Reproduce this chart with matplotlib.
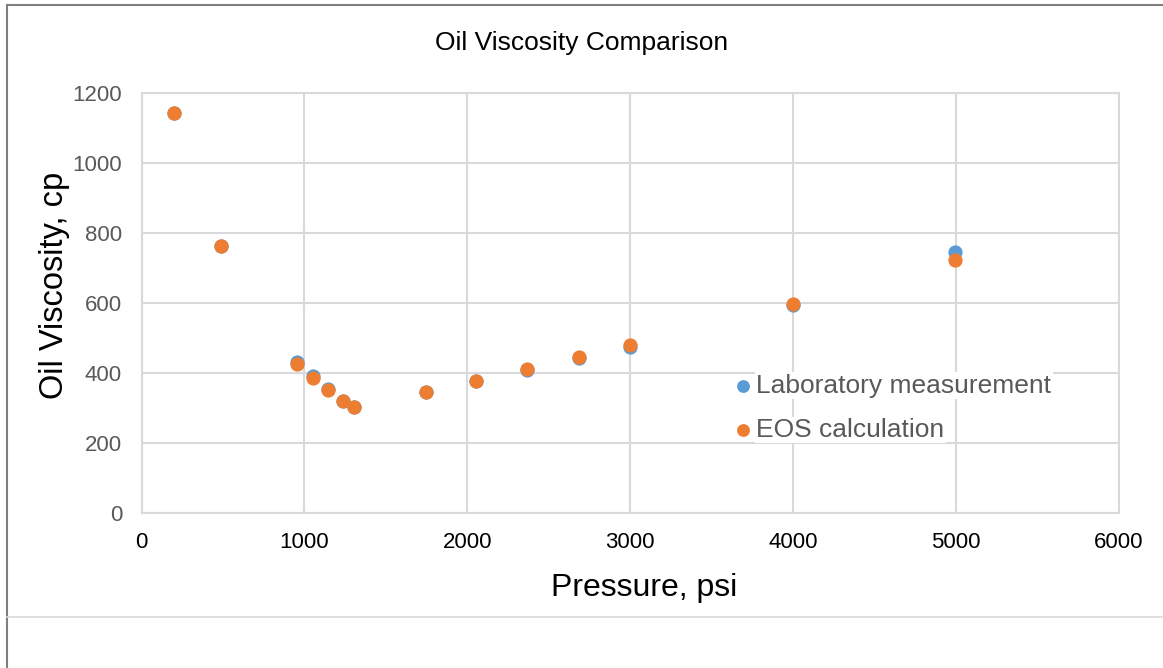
import matplotlib
matplotlib.use("Agg")
import matplotlib.pyplot as plt
from matplotlib.lines import Line2D

plt.rcParams['font.family'] = ['Liberation Sans', 'DejaVu Sans']

pressure = [200, 490, 955, 1050, 1147, 1238, 1303, 1743, 2056, 2368, 2687, 2997, 3999, 4995]
lab_visc = [1143, 762, 431, 390, 354, 321, 301, 345, 377, 409, 442, 474, 593, 745]
eos_visc = [1143, 762, 426, 385, 351, 320, 301, 345, 377, 410, 445, 480, 598, 723]

x_ticks = [0, 1000, 2000, 3000, 4000, 5000, 6000]
y_ticks = [0, 200, 400, 600, 800, 1000, 1200]

fig = plt.figure(figsize=(11.63, 6.68), dpi=100)
ax = fig.add_axes([0.1217, 0.2325, 0.9622 - 0.1217, 0.8603 - 0.2325])

grid_c = '#d9d9d9'
ax.scatter(pressure, lab_visc, s=105, color='#5B9BD5', zorder=3, label='Laboratory measurement', linewidths=0)
ax.scatter(pressure, eos_visc, s=105, color='#ED7D31', zorder=4, label='EOS calculation', linewidths=0)

ax.set_xlim(0, 6000)
ax.set_ylim(0, 1200)
ax.set_xticks(x_ticks)
ax.set_yticks(y_ticks)
ax.grid(True, color=grid_c, linewidth=1.5, zorder=0)
ax.set_axisbelow(True)
for sp in ax.spines.values():
    sp.set_color(grid_c)
    sp.set_linewidth(1.5)
ax.tick_params(axis='both', length=0, labelsize=16)
ax.tick_params(axis='x', pad=14, labelcolor='black')
ax.tick_params(axis='y', pad=14, labelcolor='#595959')

fig.text(644 / 1163, 1 - 588 / 668, 'Pressure, psi', ha='center', va='center', fontsize=23)
fig.text(55 / 1163, 1 - 285 / 668, 'Oil Viscosity, cp', rotation=90, ha='center', va='center', fontsize=23.5)
fig.text(0.5, 0.935, 'Oil Viscosity Comparison', ha='center', va='center', fontsize=19)

leg = ax.legend(loc='lower left', bbox_to_anchor=(0.591, 0.143), frameon=False,
                fontsize=19, handletextpad=0.0, labelspacing=0.78, borderaxespad=0,
                handlelength=1.0, markerscale=0.9)
for t in leg.get_texts():
    t.set_color('#595959')
    t.set_bbox(dict(facecolor='white', edgecolor='none', pad=1))

fig.add_artist(Line2D([0.0056, 0.0056], [0, 0.992], transform=fig.transFigure, color='#7f7f7f', linewidth=1.5))
fig.add_artist(Line2D([0.0056, 1.0], [0.992, 0.992], transform=fig.transFigure, color='#7f7f7f', linewidth=1.5))
fig.add_artist(Line2D([0.0056, 1.0], [1 - 617 / 668, 1 - 617 / 668], transform=fig.transFigure, color='#d9d9d9', linewidth=1.2))

fig.savefig('out.png', dpi=100, facecolor='white')
